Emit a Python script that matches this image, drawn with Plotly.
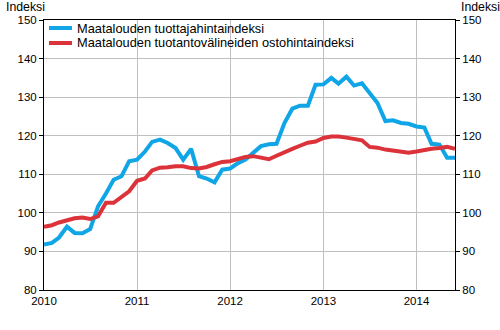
import pandas as pd
import plotly.graph_objects as go

months = pd.date_range("2010-01-01", periods=54, freq="MS")

producer_index = [
    91.8, 92.2, 93.6, 96.4, 94.8, 94.7, 95.8, 101.7, 105.0, 108.6, 109.5, 113.4,
    113.8, 115.9, 118.4, 119.0, 118.1, 116.8, 113.8, 116.6, 109.5, 108.9, 107.9, 111.2,
    111.5, 112.9, 113.8, 115.5, 117.3, 117.8, 117.9, 123.3, 127.0, 127.8, 127.8, 133.2,
    133.3, 135.0, 133.5, 135.3, 133.0, 133.6, 130.9, 128.5, 123.8, 124.0, 123.3, 123.1,
    122.4, 122.1, 117.9, 117.7, 114.3, 114.3,
]
input_index = [
    96.4, 96.8, 97.5, 98.1, 98.6, 98.8, 98.4, 99.1, 102.6, 102.6, 104.0, 105.6,
    108.3, 108.9, 111.0, 111.7, 111.8, 112.1, 112.1, 111.6, 111.5, 111.9, 112.6, 113.2,
    113.4, 114.0, 114.5, 114.7, 114.3, 113.9, 114.8, 115.8, 116.6, 117.4, 118.2, 118.5,
    119.4, 119.8, 119.8, 119.5, 119.2, 118.8, 117.1, 116.9, 116.4, 116.2, 115.8, 115.6,
    115.9, 116.4, 116.6, 116.8, 117.1, 116.6,
]
series_names = [
    "Maatalouden tuottajahintaindeksi",
    "Maatalouden tuotantovälineiden ostohintaindeksi",
]
series_colors = ["#0fa5e6", "#dc323a"]
y_ticks = [80, 90, 100, 110, 120, 130, 140, 150]
axis_title = "Indeksi"

FONT = "Liberation Sans, Arial, sans-serif"
W, H = 500, 330
ML, MR, MT, MB = 44, 45, 20, 40
PW, PH = W - ML - MR, H - MT - MB


def px_x(x):
    return (x - ML) / PW


def px_y(y):
    return (H - MB - y) / PH


fig = go.Figure()
for name, vals, col in zip(series_names, [producer_index, input_index], series_colors):
    fig.add_trace(go.Scatter(x=months, y=vals, mode="lines", name=name,
                             line=dict(color=col, width=4), showlegend=False))
# invisible trace to carry the right-hand axis
fig.add_trace(go.Scatter(x=[months[0]], y=[y_ticks[0]], yaxis="y2", mode="markers",
                         marker=dict(opacity=0), showlegend=False, hoverinfo="skip"))

shapes = [dict(type="rect", xref="paper", yref="paper", x0=0, x1=px_x(356),
               y0=px_y(66), y1=1, fillcolor="white", line=dict(width=0), layer="between")]
annotations = []
for i, (name, col) in enumerate(zip(series_names, series_colors)):
    yy = px_y(28 + 15 * i)
    shapes.append(dict(type="line", xref="paper", yref="paper", x0=px_x(49), x1=px_x(72),
                       y0=yy, y1=yy, line=dict(color=col, width=4)))
    annotations.append(dict(xref="paper", yref="paper", x=px_x(75), y=yy, text=name,
                            showarrow=False, xanchor="left", yanchor="middle",
                            font=dict(size=12.8, color="#000")))
annotations.append(dict(xref="paper", yref="paper", x=px_x(47), y=px_y(7), text=axis_title,
                        showarrow=False, xanchor="right", yanchor="middle",
                        font=dict(size=12.3, color="#000")))
annotations.append(dict(xref="paper", yref="paper", x=px_x(459), y=px_y(7), text=axis_title,
                        showarrow=False, xanchor="left", yanchor="middle",
                        font=dict(size=12.3, color="#000")))

fig.update_layout(
    width=W, height=H,
    margin=dict(l=ML, r=MR, t=MT, b=MB, pad=0),
    paper_bgcolor="white", plot_bgcolor="white",
    font=dict(family=FONT, size=11.5, color="#000"),
    shapes=shapes, annotations=annotations,
    xaxis=dict(type="date", range=[months[0], months[-1]], tick0="2010-01-01", dtick="M12",
               tickformat="%Y", showgrid=True, gridcolor="#c0c0c0", gridwidth=1,
               showline=True, linecolor="#000", linewidth=1, mirror=True,
               ticks="", zeroline=False, tickfont=dict(size=11.5)),
    yaxis=dict(range=[80, 150], tickvals=y_ticks, showgrid=True, gridcolor="#c0c0c0",
               gridwidth=1, showline=True, linecolor="#000", linewidth=1, mirror=True,
               ticks="outside", ticklen=4, tickcolor="#000", zeroline=False),
    yaxis2=dict(range=[80, 150], tickvals=y_ticks, overlaying="y", side="right",
                showgrid=False, showline=False, ticks="outside", ticklen=4,
                tickcolor="#000", zeroline=False),
)

fig.write_html("out.html")
